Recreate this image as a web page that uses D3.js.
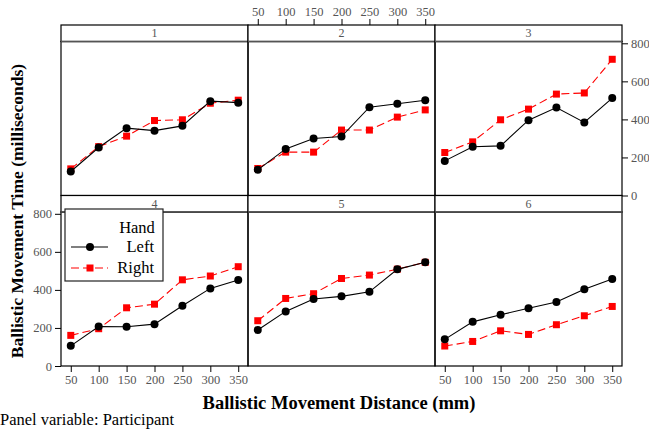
<!DOCTYPE html>
<html>
<head>
<meta charset="utf-8">
<script src="https://cdn.jsdelivr.net/npm/d3@7"></script>
<style>
  body { margin: 0; background: #fff; }
  svg { display: block; }
  svg text { font-family: 'Liberation Serif', 'DejaVu Serif', serif; }
</style>
</head>
<body>
<div id="chart-container"></div>
<script>
const distances = [50, 100, 150, 200, 250, 300, 350];
const participants = ['1', '2', '3', '4', '5', '6'];
const hands = ['Left', 'Right'];
const yTicks = [0, 200, 400, 600, 800];

// one row per participant, one value per distance
const leftTimes = [
  [126, 252, 354, 341, 366, 496, 488],
  [135, 245, 300, 310, 464, 482, 501],
  [182, 256, 261, 396, 462, 384, 512],
  [106, 208, 206, 220, 317, 408, 452],
  [189, 287, 352, 366, 390, 508, 545],
  [140, 232, 269, 304, 336, 403, 457],
];
const rightTimes = [
  [140, 257, 312, 394, 398, 485, 501],
  [142, 228, 228, 344, 344, 412, 450],
  [226, 282, 398, 454, 533, 539, 716],
  [161, 196, 306, 325, 453, 473, 522],
  [238, 355, 380, 460, 478, 509, 545],
  [105, 129, 185, 166, 217, 264, 313],
];

displayPanels();

function displayPanels() {
  const width = 649;
  const height = 432;
  const layout = {
    left: 61,
    colWidth: 187,
    rowTops: [25, 195.5],
    stripHeight: 16.5,
    plotHeight: 154,
  };

  const svg = d3.select('#chart-container').append('svg')
      .attr('width', width)
      .attr('height', height);

  const xScale = d3.scaleLinear([32.5, 367.5], [0, layout.colWidth]);
  const yScale = d3.scaleLinear([0, 809.5], [layout.plotHeight, 0]);

  const line = d3.line()
      .x((d, i) => xScale(distances[i]))
      .y(d => yScale(d));

  participants.forEach((p, idx) => {
    const col = idx % 3;
    const row = idx < 3 ? 0 : 1;
    const x0 = layout.left + col * layout.colWidth;
    const y0 = layout.rowTops[row];
    const panel = svg.append('g')
        .attr('transform', `translate(${x0}, ${y0})`);
    const plot = panel.append('g')
        .attr('transform', `translate(0, ${layout.stripHeight})`);

    // strip
    panel.append('rect')
        .attr('width', layout.colWidth)
        .attr('height', layout.stripHeight)
        .attr('fill', '#fff')
        .attr('stroke', '#000')
        .attr('stroke-width', 1.2);
    panel.append('line')
        .attr('x1', 0).attr('x2', layout.colWidth)
        .attr('y1', layout.stripHeight).attr('y2', layout.stripHeight)
        .attr('stroke', '#555')
        .attr('stroke-width', 1.5);
    panel.append('text')
        .attr('x', layout.colWidth / 2)
        .attr('y', layout.stripHeight / 2 + 4)
        .attr('text-anchor', 'middle')
        .attr('font-size', 12)
        .attr('fill', '#555')
        .text(p);

    // series
    const right = rightTimes[idx];
    const left = leftTimes[idx];
    plot.append('path')
        .attr('d', line(right))
        .attr('fill', 'none')
        .attr('stroke', '#ff0000')
        .attr('stroke-width', 1.1)
        .attr('stroke-dasharray', '8,4');
    plot.selectAll('.sq')
        .data(right)
        .join('rect')
        .attr('x', (d, i) => xScale(distances[i]) - 3.5)
        .attr('y', d => yScale(d) - 3.5)
        .attr('width', 7)
        .attr('height', 7)
        .attr('fill', '#ff0000');
    plot.append('path')
        .attr('d', line(left))
        .attr('fill', 'none')
        .attr('stroke', '#000')
        .attr('stroke-width', 1.1);
    plot.selectAll('.pt')
        .data(left)
        .join('circle')
        .attr('cx', (d, i) => xScale(distances[i]))
        .attr('cy', d => yScale(d))
        .attr('r', 4)
        .attr('fill', '#000');

    // panel border
    plot.append('rect')
        .attr('width', layout.colWidth)
        .attr('height', layout.plotHeight)
        .attr('fill', 'none')
        .attr('stroke', '#000')
        .attr('stroke-width', 1.2);

    // alternating axes as in lattice
    if (row === 1 && col !== 1) {
      displayAxis(plot.append('g')
          .attr('transform', `translate(0, ${layout.plotHeight})`),
          d3.axisBottom(xScale).tickValues(distances));
    }
    if (row === 0 && col === 1) {
      displayAxis(panel.append('g'),
          d3.axisTop(xScale).tickValues(distances));
    }
    if (row === 1 && col === 0) {
      displayAxis(plot.append('g'),
          d3.axisLeft(yScale).tickValues(yTicks));
    }
    if (row === 0 && col === 2) {
      displayAxis(plot.append('g')
          .attr('transform', `translate(${layout.colWidth}, 0)`),
          d3.axisRight(yScale).tickValues(yTicks));
    }
  });

  displayLegend(svg);

  svg.append('text')
      .attr('x', 339)
      .attr('y', 409)
      .attr('text-anchor', 'middle')
      .attr('font-size', 18.5)
      .attr('font-weight', 'bold')
      .text('Ballistic Movement Distance (mm)');

  svg.append('text')
      .attr('transform', 'translate(23, 211) rotate(-90)')
      .attr('text-anchor', 'middle')
      .attr('font-size', 17.5)
      .attr('font-weight', 'bold')
      .text('Ballistic Movement Time (milliseconds)');

  svg.append('text')
      .attr('x', 0)
      .attr('y', 425)
      .attr('font-size', 16.5)
      .text('Panel variable: Participant');
}

function displayAxis(g, axis) {
  g.call(axis.tickSize(6).tickPadding(3).tickSizeOuter(0));
  g.attr('font-family', null);
  g.select('.domain').remove();
  g.selectAll('.tick line').attr('stroke', '#000');
  g.selectAll('.tick text')
      .attr('fill', '#555')
      .attr('font-size', 12.5);
}

function displayLegend(svg) {
  const box = { x: 65, y: 209, w: 98, h: 72 };
  const g = svg.append('g');
  g.append('rect')
      .attr('x', box.x).attr('y', box.y)
      .attr('width', box.w).attr('height', box.h)
      .attr('fill', '#fff')
      .attr('stroke', '#222')
      .attr('stroke-width', 1.2);
  g.append('text')
      .attr('x', 137).attr('y', 233)
      .attr('text-anchor', 'middle')
      .attr('font-size', 16.5)
      .text('Hand');

  const rows = [
    { label: hands[0], y: 247, color: '#000', dash: null, shape: 'circle' },
    { label: hands[1], y: 268, color: '#ff0000', dash: '8,4', shape: 'square' },
  ];
  rows.forEach(r => {
    g.append('line')
        .attr('x1', 71).attr('x2', 108)
        .attr('y1', r.y).attr('y2', r.y)
        .attr('stroke', r.color)
        .attr('stroke-width', 1.1)
        .attr('stroke-dasharray', r.dash);
    if (r.shape === 'circle') {
      g.append('circle').attr('cx', 90).attr('cy', r.y).attr('r', 4).attr('fill', r.color);
    } else {
      g.append('rect').attr('x', 86.5).attr('y', r.y - 3.5)
          .attr('width', 7).attr('height', 7).attr('fill', r.color);
    }
    g.append('text')
        .attr('x', 154).attr('y', r.y + 5)
        .attr('text-anchor', 'end')
        .attr('font-size', 16.5)
        .text(r.label);
  });
}
</script>
</body>
</html>
